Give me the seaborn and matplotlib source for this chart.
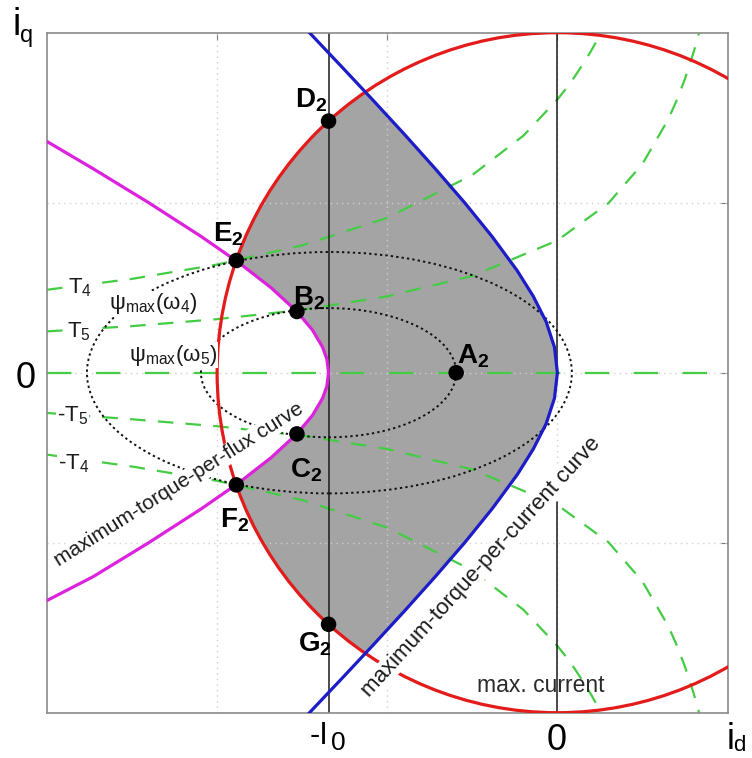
import numpy as np
import pandas as pd
import matplotlib
matplotlib.use("Agg")
import matplotlib.pyplot as plt
from matplotlib.patches import Circle, Ellipse
import seaborn as sns

# ---------------- data (d/q current plane) ----------------
I0 = 1.345          # position of -I0 on the d axis
I_MAX = 2.0         # radius of the max. current circle

# maximum-torque-per-current curve (blue), top -> bottom
mtpa_id = [-1.476, -1.268, -1.081, -0.897, -0.718, -0.545, -0.383, -0.236, -0.142, -0.066, -0.017, 0.0,
           -0.017, -0.066, -0.142, -0.236, -0.383, -0.545, -0.718, -0.897, -1.081, -1.268, -1.476]
mtpa_iq = [2.02, 1.8, 1.6, 1.4, 1.2, 1.0, 0.8, 0.6, 0.45, 0.3, 0.15, 0.0,
           -0.15, -0.3, -0.45, -0.6, -0.8, -1.0, -1.2, -1.4, -1.6, -1.8, -2.02]

# maximum-torque-per-flux curve (magenta), top -> bottom
mtpf_id = [-3.0, -2.729, -2.402, -2.092, -1.876, -1.683, -1.531, -1.439, -1.380, -1.355, -1.345,
           -1.355, -1.380, -1.439, -1.531, -1.683, -1.876, -2.092, -2.402, -2.729, -3.0]
mtpf_iq = [1.36, 1.2, 1.0, 0.8, 0.65, 0.5, 0.36, 0.25, 0.15, 0.08, 0.0,
           -0.08, -0.15, -0.25, -0.36, -0.5, -0.65, -0.8, -1.0, -1.2, -1.34]

# constant torque curves (green dashed)
t4_id = [-3.0, -2.5, -2.0, -1.5, -1.0, -0.5, -0.2, 0.0, 0.05, 0.1, 0.15, 0.2, 0.26]
t4_iq = [0.488, 0.552, 0.636, 0.749, 0.911, 1.163, 1.394, 1.607, 1.670, 1.739, 1.815, 1.896, 2.005]
t5_id = [-3.0, -2.5, -2.0, -1.5, -1.0, -0.5, 0.0, 0.3, 0.5, 0.65, 0.7, 0.75, 0.8, 0.82, 0.84]
t5_iq = [0.243, 0.274, 0.315, 0.370, 0.449, 0.569, 0.778, 0.997, 1.228, 1.487, 1.599, 1.729, 1.883, 1.952, 2.027]
tm4_id = [-3.0, -2.5, -2.0, -1.5, -1.0, -0.5, -0.2, 0.0, 0.05, 0.1, 0.15, 0.2, 0.26]
tm4_iq = [-0.482, -0.552, -0.636, -0.749, -0.911, -1.163, -1.394, -1.607, -1.670, -1.739, -1.815, -1.896, -2.005]
tm5_id = [-3.0, -2.5, -2.0, -1.5, -1.0, -0.5, 0.0, 0.3, 0.5, 0.65, 0.7, 0.75, 0.8, 0.82, 0.84]
tm5_iq = [-0.237, -0.274, -0.315, -0.370, -0.449, -0.569, -0.778, -0.997, -1.228, -1.487, -1.599, -1.729, -1.883, -1.952, -2.027]
t0_id = [-3.0, 1.0]
t0_iq = [0.0, 0.0]

# flux-limit ellipses psi_max(w4), psi_max(w5)
ell_center_id = [-1.34, -1.345]
ell_width = [2.85, 1.50]
ell_height = [1.42, 0.76]

# operating points
pt_names = ["A", "B", "C", "D", "E", "F", "G"]
pt_id = [-0.595, -1.531, -1.531, -1.345, -1.887, -1.887, -1.345]
pt_iq = [0.0, 0.36, -0.36, 1.48, 0.66, -0.66, -1.48]

# i_d = 0 reference line pieces
v0_top_iq = [2.0, 0.0]
v0_bot_iq = [-0.76, -2.0]

grid_id = [-2.0, -1.0, 0.0]
grid_iq = [-1.0, 0.0, 1.0]

# ---------------- style ----------------
sns.set_style("white")
plt.rcParams["font.family"] = ["Liberation Sans", "DejaVu Sans"]
plt.rcParams["mathtext.fontset"] = "custom"
plt.rcParams["mathtext.rm"] = "Liberation Sans"
plt.rcParams["mathtext.it"] = "Liberation Sans:italic"
plt.rcParams["mathtext.bf"] = "Liberation Sans:bold"

RED = "#e31b1b"
BLUE = "#1c1cc8"
MAG = "#dd22dd"
GREEN = "#44cc44"
FILL = "#a4a4a4"
TXT = "#1a1a1a"

W, H = 752, 758
fig = plt.figure(figsize=(W / 100, H / 100), dpi=100)
ax = fig.add_axes([47 / W, 1 - 712.7 / H, 680.5 / W, 680.0 / H])
ax.set_xlim(-3, 1)
ax.set_ylim(-2, 2)


def P(xp, yp):
    """pixel position of a label -> data coordinates"""
    return (xp - 558.0) / 170.25, (372.7 - yp) / 170.0


# grid
for g in grid_id:
    ax.axvline(g, color="#cfcfcf", lw=1.0, ls=(0, (1, 3)), zorder=1.5)
for g in grid_iq:
    ax.axhline(g, color="#cfcfcf", lw=1.0, ls=(0, (1, 3)), zorder=1.5)

# shaded operating region: between the two curves, inside the circle
poly_x = mtpa_id + mtpf_id[::-1]
poly_y = mtpa_iq + mtpf_iq[::-1]
fills = ax.fill(poly_x, poly_y, color=FILL, lw=0, zorder=1)
clip = Circle((0, 0), I_MAX, transform=ax.transData)
for f in fills:
    f.set_clip_path(clip)

# reference verticals
ax.axvline(-I0, color=TXT, lw=1.1, zorder=2.2)
sns.lineplot(x=[0.0, 0.0], y=v0_top_iq, sort=False, estimator=None, color=TXT, lw=1.1, ax=ax, zorder=2.2)
sns.lineplot(x=[0.0, 0.0], y=v0_bot_iq, sort=False, estimator=None, color=TXT, lw=1.1, ax=ax, zorder=2.2)

# constant torque curves
dash = (0, (7, 5.5))
for xs, ys in [(t4_id, t4_iq), (t5_id, t5_iq), (tm4_id, tm4_iq), (tm5_id, tm5_iq)]:
    sns.lineplot(x=xs, y=ys, sort=False, estimator=None, color=GREEN, lw=1.6,
                 linestyle=dash, ax=ax, zorder=2)
sns.lineplot(x=t0_id, y=t0_iq, sort=False, estimator=None, color=GREEN, lw=1.6,
             linestyle=(0, (11, 11)), ax=ax, zorder=2)

# flux ellipses
for c, w, h in zip(ell_center_id, ell_width, ell_height):
    ax.add_patch(Ellipse((c, 0), w, h, fill=False, ec="#111111", lw=1.4,
                         ls=(0, (1.2, 1.6)), zorder=2.6))

# max current circle
ax.add_patch(Circle((0, 0), I_MAX, fill=False, ec=RED, lw=2.3, zorder=3))

# MTPA and MTPF curves
sns.lineplot(x=mtpa_id, y=mtpa_iq, sort=False, estimator=None, color=BLUE, lw=2.3, ax=ax, zorder=3.2)
sns.lineplot(x=mtpf_id, y=mtpf_iq, sort=False, estimator=None, color=MAG, lw=2.3, ax=ax, zorder=3.2)

# operating points
sns.scatterplot(x=pt_id, y=pt_iq, s=125, color="black", edgecolor="none", ax=ax, zorder=6, legend=False)

# point labels (left, baseline in pixels)
lab_pos = {"D": (295, 108), "E": (213, 242), "B": (293, 305), "A": (458, 363),
           "C": (290, 477), "F": (220, 528), "G": (298, 652)}
for n in pt_names:
    x, y = P(*lab_pos[n])
    ax.text(x, y, r"$\mathbf{%s_2}$" % n, fontsize=20, color="black", ha="left", va="baseline", zorder=7)

wbox = dict(facecolor="white", edgecolor="none", pad=0.6)
# torque labels
for s, (xp, yp) in [(r"T$_4$", (68, 293)), (r"T$_5$", (67, 337)),
                    (r"-T$_5$", (57, 421)), (r"-T$_4$", (58, 469))]:
    x, y = P(xp, yp)
    ax.text(x, y, s, fontsize=16, color=TXT, ha="left", va="baseline", bbox=wbox, zorder=4.5)

# flux labels
for s, (xp, yp) in [(r"$\mathrm{\psi}_{\mathrm{max}}(\mathrm{\omega}_4)$", (154, 304)),
                    (r"$\mathrm{\psi}_{\mathrm{max}}(\mathrm{\omega}_5)$", (174, 355))]:
    x, y = P(xp, yp)
    ax.text(x, y, s, fontsize=16, color=TXT, ha="center", va="center",
            bbox=dict(facecolor="white", edgecolor="none", pad=0.2), zorder=4.5)

# curve names
x, y = P(179, 485)
ax.text(x, y, "maximum-torque-per-flux curve", fontsize=15, color=TXT, rotation=32.2,
        rotation_mode="anchor", ha="center", va="center", bbox=wbox, zorder=4.5)
x, y = P(481.5, 567)
ax.text(x, y, "maximum-torque-per-current curve", fontsize=16, color=TXT, rotation=47.6,
        rotation_mode="anchor", ha="center", va="center", bbox=wbox, zorder=4.5)
x, y = P(541, 692)
ax.text(x, y, "max. current", fontsize=16.5, color="#2a2a2a", ha="center", va="baseline", zorder=4.6)

# axis frame
ax.set_xticks(grid_id)
ax.set_yticks(grid_iq)
ax.tick_params(direction="in", length=5, width=0.8, color="#777777", top=True, right=True,
               labelbottom=False, labelleft=False)
for sp in ax.spines.values():
    sp.set_color("#8a8a8a")
    sp.set_linewidth(1.2)
ax.set_xlabel("")
ax.set_ylabel("")

# tick / axis labels outside the frame
def T(xp, yp, s, size, ha="left"):
    x, y = P(xp, yp)
    ax.text(x, y, s, fontsize=size, color="black", ha=ha, va="baseline", clip_on=False)

T(26, 388, "0", 26, ha="center")
T(557.5, 749.5, "0", 26, ha="center")
T(310, 744, "-I", 22)
T(331, 750, "0", 19)
T(13, 35, "i", 27)
T(20, 42, "q", 17)
T(727, 749, "i", 26)
T(734, 751, "d", 16)

fig.savefig("out.png", dpi=100)
